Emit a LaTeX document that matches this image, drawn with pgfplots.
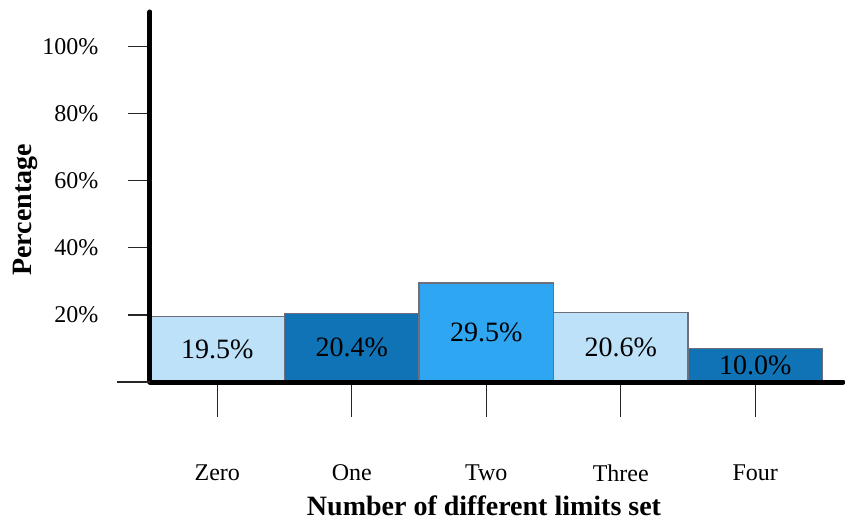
\documentclass[border=0pt]{standalone}
\usepackage{pgfplots}
\pgfplotsset{compat=1.18}
\usepackage{fontspec}
\setmainfont{Liberation Serif}
\definecolor{lightb}{RGB}{189,225,248}
\definecolor{darkb}{RGB}{16,115,182}
\definecolor{brightb}{RGB}{46,166,241}
\definecolor{edge}{RGB}{110,110,125}
\begin{document}
\begin{tikzpicture}
\begin{axis}[name=ax, scale only axis, width=693bp, height=370bp,
  xmin=-0.5, xmax=4.652, ymin=0, ymax=110.3,
  axis on top,
  axis x line=bottom, axis y line=left,
  axis line style={line width=5bp, -, line cap=round},
  /pgf/number format/assume math mode=true,
  xtick={0,1,2,3,4}, xticklabels={Zero,One,Two,Three,Four},
  ytick={20,40,60,80,100}, yticklabels={20\%,40\%,60\%,80\%,100\%},
  extra y ticks={0}, extra y tick labels={},
  extra y tick style={/pgfplots/major tick length=33bp},
  tick align=outside, major tick length=22bp,
  xtick style={/pgfplots/major tick length=35bp},
  tick style={line width=1.3bp, black!85},
  tick label style={font=\fontsize{24bp}{28bp}\selectfont},
  xticklabel style={yshift=-57bp},
  yticklabel style={xshift=-26bp},
  xlabel={\bfseries Number of different limits set},
  ylabel={\bfseries Percentage},
  label style={font=\fontsize{28bp}{32bp}\selectfont},
  xlabel style={at={(rel axis cs:0.482,0)}, anchor=center, yshift=-124bp},
  ylabel style={at={(rel axis cs:0,0.465)}, anchor=center, yshift=125bp},
  clip=false,
]
\addplot[ybar, bar width=1, bar shift=0pt, fill=lightb, draw=edge, line width=1.2bp] coordinates {(0,19.5) (3,20.6)};
\addplot[ybar, bar width=1, bar shift=0pt, fill=darkb, draw=edge, line width=1.2bp] coordinates {(1,20.4) (4,10.0)};
\addplot[ybar, bar width=1, bar shift=0pt, fill=brightb, draw=edge, line width=1.2bp] coordinates {(2,29.5)};
\addplot[draw=none, point meta=explicit,
  nodes near coords={\pgfmathprintnumber[fixed,zerofill,precision=1]{\pgfplotspointmeta}\%},
  every node near coord/.style={anchor=center, font=\fontsize{28bp}{32bp}\selectfont, text=black}]
  coordinates {(0,9.75) [19.5] (1,10.2) [20.4] (2,14.75) [29.5] (3,10.3) [20.6] (4,5.0) [10.0]};
\end{axis}
\pgfresetboundingbox
\path ([shift={(-150bp,-140bp)}]ax.south west) rectangle ([shift={(2bp,12bp)}]ax.north east);
\end{tikzpicture}
\end{document}
